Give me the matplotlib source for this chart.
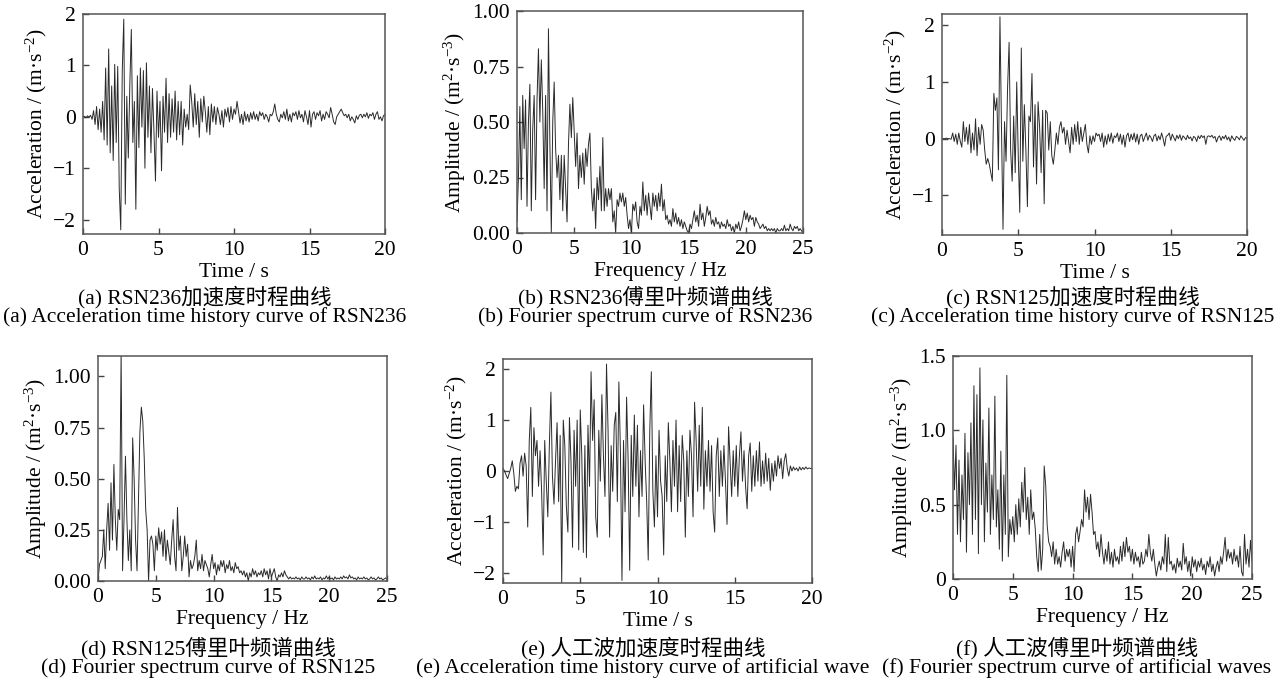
import numpy as np
import matplotlib
matplotlib.use('Agg')
import matplotlib.pyplot as plt

plt.rcParams['font.family'] = ['Liberation Serif', 'Noto Sans CJK SC']
plt.rcParams['mathtext.fontset'] = 'custom'
plt.rcParams['mathtext.rm'] = 'Liberation Serif'
plt.rcParams['mathtext.it'] = 'Liberation Serif'

# ---------------------------------------------------------------- data
# (a) RSN236 acceleration, 0.1 s step, 0..20 s
acc_236 = [
    0, 0.01, -0.02, 0.02, -0.01,
    0.03, -0.05, 0.12, -0.15, 0.2,
    -0.25, 0.15, -0.3, 0.3, -0.45,
    0.95, -0.55, 1.32, -0.7, 0.6,
    -0.85, 1.02, -0.5, 0.98, -1.4,
    -2.2, 0.9, 1.9, -1.7, 0.4,
    -0.8, 0.6, 1.7, -0.5, 0.3,
    -1.8, 0.8, -0.6, 0.95, -0.2,
    0.9, -1.0, 1.05, -0.4, 0.6,
    -0.7, 0.55, -0.3, -1.25, 0.5,
    -0.4, 0.3, -1.05, 0.4, -0.3,
    0.75, -0.5, 0.45, -0.4, 0.35,
    -0.3, 0.5, -0.45, 0.3, -0.35,
    0.3, -0.55, 0.15, -0.2, 0.05,
    -0.25, 0.62, 0.3, -0.2, 0.45,
    -0.15, 0.3, -0.4, 0.35, -0.1,
    0.4, 0.1, -0.3, 0.2, -0.35,
    0.25, -0.1, 0.2, -0.15, 0.18,
    0.05, -0.15, 0.12, -0.2, 0.15,
    0.0, 0.18, -0.1, 0.2, -0.05,
    0.15, 0.05, 0.3, 0.1, -0.12,
    0.05, -0.15, 0.1, -0.08, 0.05,
    -0.1, 0.08, -0.05, 0.1, -0.05,
    0.05, -0.08, 0.1, 0.02, 0.08,
    -0.05, 0.05, 0.0, -0.1, 0.05,
    0.02, 0.1, 0.25, 0.05, -0.05,
    -0.1, 0.05, -0.02, 0.1, -0.05,
    0.15, -0.08, 0.05, -0.1, 0.08,
    0.02, 0.1, -0.05, 0.12, -0.02,
    0.05, -0.1, 0.12, 0.0, -0.15,
    0.12, -0.2, 0.05, 0.1, -0.05,
    0.08, 0.02, 0.12, -0.08, 0.05,
    -0.05, 0.1, 0.05, -0.02, 0.18,
    0.05, -0.1, -0.15, 0.0, 0.05,
    0.1, 0.15, 0.08, 0.02, 0.05,
    -0.02, 0.05, -0.08, 0.0, -0.05,
    -0.12, 0.02, -0.05, 0.03, 0.05,
    -0.02, 0.05, 0.0, 0.08, -0.03,
    0.05, 0.02, 0.08, -0.05, 0.05,
    0.1, -0.05, 0.0, -0.08, 0.02,
    0.05]

# (b) RSN236 Fourier amplitude, 0.125 Hz step, 0..25 Hz
amp_236 = [
    0.05, 0.25, 0.57, 0.15, 0.62, 0.38, 0.6, 0.12,
    0.5, 0.67, 0.1, 0.47, 0.62, 0.15, 0.6, 0.83,
    0.5, 0.78, 0.55, 0.2, 0.62, 0.1, 0.92, 0.4,
    0.0, 0.5, 0.68, 0.38, 0.25, 0.35, 0.15, 0.35,
    0.1, 0.35, 0.2, 0.05, 0.4, 0.58, 0.43, 0.61,
    0.45, 0.3, 0.45, 0.2, 0.35, 0.25, 0.36, 0.22,
    0.38, 0.3, 0.4, 0.45, 0.2, 0.1, 0.2, 0.02,
    0.25, 0.15, 0.3, 0.1, 0.43, 0.1, 0.2, 0.12,
    0.2, 0.15, 0.2, 0.05, 0.1, 0.0, 0.15, 0.12,
    0.18, 0.14, 0.18, 0.12, 0.16, 0.08, 0.02, 0.06,
    0.0, 0.13, 0.1, 0.14, 0.05, 0.02, 0.12, 0.08,
    0.23, 0.1, 0.17, 0.08, 0.18, 0.12, 0.06, 0.18,
    0.12, 0.17, 0.1, 0.18, 0.12, 0.22, 0.1, 0.15,
    0.06, 0.08, 0.04, 0.06, 0.03, 0.11, 0.05, 0.09,
    0.04, 0.07, 0.03, 0.06, 0.02, 0.05, 0.03, 0.01,
    0.0, 0.04, 0.02, 0.06, 0.1, 0.05, 0.08, 0.03,
    0.13, 0.06, 0.09, 0.03, 0.07, 0.12, 0.08, 0.1,
    0.04, 0.06, 0.03, 0.07, 0.04, 0.05, 0.02, 0.05,
    0.03, 0.04, 0.02, 0.06, 0.03, 0.04, 0.01, 0.03,
    0.0, 0.04, 0.02, 0.05, 0.01, 0.03, 0.06, 0.1,
    0.06, 0.09, 0.05, 0.08, 0.06, 0.07, 0.03, 0.07,
    0.05, 0.04, 0.02, 0.03, 0.04, 0.02, 0.03, 0.01,
    0.02, 0.01, 0.02, 0.01, 0.02, 0.0, 0.02, 0.01,
    0.01, 0.02, 0.01, 0.035, 0.01, 0.02, 0.01, 0.04,
    0.02, 0.01, 0.03, 0.02, 0.03, 0.01, 0.02, 0.01,
    0.0]

# (c) RSN125 acceleration, 0.1 s step
acc_125 = [
    0, 0, 0, 0.01, 0,
    0, -0.01, 0.1, -0.05, 0.08,
    -0.1, 0.1, -0.05, -0.15, 0.3,
    -0.05, 0.2, -0.1, 0.25, -0.25,
    0.1, -0.2, 0.35, -0.3, 0.2,
    -0.1, 0.25, 0.15, -0.2, -0.45,
    -0.35, -0.45, -0.6, -0.75, 0.8,
    0.5, 0.72, -0.55, 2.15, 0.2,
    -1.6, 0.3, -0.4, 0.9, 1.7,
    -0.2, -0.75, 0.4, -0.6, 1.0,
    -0.3, -1.3, 1.6, -0.4, 0.6,
    -0.2, -1.2, 0.4, 0.3, 1.15,
    -0.5, 0.6, -0.8, 0.65, 0.2,
    -0.6, 0.5, -1.15, 0.5, 0.45,
    -0.2, 0.3, -0.3, -0.45, -0.2,
    0.1, -0.1, 0.2, 0.3, 0.1,
    0.2, -0.1, 0.15, -0.05, -0.25,
    0.2, -0.1, 0.25, -0.05, 0.3,
    -0.1, 0.2, -0.05, 0.1, 0.25,
    -0.1, -0.25, 0.05, -0.1, 0.05,
    -0.05, 0.1, 0.05, 0.08, -0.05,
    0.1, -0.15, 0.05, -0.1, 0.08,
    -0.05, 0.1, -0.08, 0.05, 0.02,
    0.1, -0.05, 0.08, -0.1, 0.06,
    -0.15, 0.05, 0.1, -0.05, 0.08,
    -0.02, 0.1, -0.06, 0.08, -0.1,
    0.05, 0.08, -0.05, 0.03, 0.1,
    -0.03, 0.06, 0.02, -0.05, 0.05,
    0.08, -0.04, 0.05, -0.02, 0.1,
    0.0, -0.13, 0.04, 0.06, 0.1,
    -0.03, 0.08, 0.02, -0.04, 0.06,
    0.0, 0.07, -0.03, 0.05, 0.02,
    -0.02, 0.06, 0.0, 0.03, -0.04,
    0.04, 0.02, -0.05, 0.05, 0.0,
    0.06, 0.02, 0.05, -0.1, 0.04,
    0.05, 0.03, 0.06, 0.01, 0.04,
    -0.06, 0.02, 0.05, -0.03, 0.04,
    0.0, 0.06, -0.02, 0.03, -0.05,
    0.05, 0.0, -0.03, 0.04, 0.02,
    -0.02, 0.05, 0.01, -0.03, 0.02,
    0.0]

# (d) RSN125 Fourier amplitude, 0.125 Hz step
amp_125 = [
    0.0, 0.08, 0.1, 0.12, 0.25, 0.06, 0.25, 0.38,
    0.15, 0.48, 0.2, 0.57, 0.3, 0.15, 0.35, 0.3,
    1.12, 0.05, 0.3, 0.61, 0.3, 0.1, 0.25, 0.05,
    0.7, 0.5, 0.2, 0.05, 0.4, 0.73, 0.85, 0.78,
    0.6, 0.35, 0.25, 0.0, 0.2, 0.22, 0.18, 0.05,
    0.22, 0.15, 0.26, 0.18, 0.24, 0.12, 0.25, 0.1,
    0.2, 0.14, 0.08, 0.2, 0.3, 0.12, 0.05, 0.36,
    0.15, 0.22, 0.05, 0.12, 0.22, 0.12, 0.18, 0.02,
    0.1, 0.06, 0.08, 0.12, 0.2, 0.05, 0.1, 0.06,
    0.13, 0.05, 0.1, 0.08, 0.06, 0.02, 0.08, 0.13,
    0.06, 0.09, 0.03, 0.08, 0.05, 0.1, 0.07, 0.1,
    0.04, 0.08, 0.06, 0.1, 0.05, 0.07, 0.04, 0.09,
    0.06, 0.07, 0.04, 0.05, 0.03, 0.05, 0.02, 0.04,
    0.0, 0.04, 0.02, 0.06, 0.03, 0.05, 0.02, 0.04,
    0.03, 0.05, 0.02, 0.06, 0.03, 0.05, 0.01, 0.06,
    0.02, 0.04, 0.06, 0.02, 0.0, 0.03, 0.02, 0.04,
    0.02, 0.05, 0.03, 0.02, 0.01, 0.02, 0.01, 0.015,
    0.01, 0.02, 0.01, 0.015, 0.005, 0.02, 0.01, 0.01,
    0.02, 0.01, 0.015, 0.005, 0.02, 0.01, 0.025, 0.01,
    0.015, 0.01, 0.02, 0.005, 0.015, 0.01, 0.025, 0.01,
    0.02, 0.01, 0.015, 0.005, 0.02, 0.01, 0.015, 0.01,
    0.02, 0.01, 0.025, 0.015, 0.02, 0.01, 0.03, 0.015,
    0.02, 0.01, 0.015, 0.005, 0.02, 0.01, 0.015, 0.01,
    0.02, 0.01, 0.015, 0.005, 0.01, 0.02, 0.01, 0.015,
    0.005, 0.01, 0.02, 0.01, 0.015, 0.005, 0.01, 0.015,
    0.01]

# (e) artificial wave acceleration, 0.1 s step
acc_art = [
    0.05, 0.0, -0.08, -0.15, -0.05,
    0.05, 0.2, -0.05, -0.4, -0.3,
    -0.35, 0.15, 0.3, -0.1, 0.35,
    0.1, -1.1, 0.6, 1.25, -0.5,
    0.85, 0.3, 0.6, -0.3, 0.4,
    -0.4, -1.65, 0.6, -0.2, -0.9,
    0.5, 1.55, -0.1, -0.65, 0.2,
    0.95, -0.6, 0.7, -2.2, 1.0,
    0.5, -0.7, -1.2, 1.05, 0.2,
    -1.5, 0.8, -0.3, 1.0, -1.55,
    1.2, 0.3, -1.6, 0.5, -1.7,
    0.9, -0.3, 1.95, 0.6, 1.4,
    -0.9, -1.3, 0.8, -0.2, 1.5,
    0.3, -0.5, 2.1, 0.8, -1.3,
    0.5, -0.4, 0.9, 1.15, -0.6,
    1.75, 0.4, -2.15, 0.6, -0.8,
    1.45, 0.2, -1.95, 0.7, -0.5,
    1.1, -0.3, 0.9, -0.9, 0.4,
    -0.5, 1.3, 0.2, -0.6, -1.75,
    0.8, 1.95, -0.4, -1.1, 0.3,
    -0.9, 0.8, -0.2, -0.5, -1.65,
    0.3, -0.6, 0.95, 0.2, -0.8,
    0.6, -0.3, 1.0, -0.8, 0.5,
    -0.6, 0.7, 0.2, -1.3, 0.4,
    -0.5, 0.8, 0.3, -0.9, 1.35,
    0.6, -0.4, 0.9, -0.3, 1.25,
    -0.75, 0.4, -0.3, 0.6, -0.4,
    0.5, -0.8, -1.2, 0.3, 0.65,
    -0.5, 0.4, -0.3, 0.5, -0.2,
    -1.05, 0.87, 0.2, -0.5, 0.4,
    -0.3, 0.5, -0.5, 0.3, 0.77,
    -0.2, 0.4, -0.3, -0.74, 0.3,
    0.55, -0.4, 0.3, -0.3, 0.4,
    -0.2, 0.57, -0.3, 0.2, -0.25,
    0.35, -0.2, 0.25, -0.38, 0.15,
    -0.2, 0.2, -0.1, 0.3, 0.05,
    0.25, -0.15, 0.2, 0.34, 0.05,
    -0.1, 0.1, 0.0, 0.08, 0.02,
    0.06, 0.0, 0.08, 0.02, 0.07,
    0.03, 0.08, 0.04, 0.06, 0.05,
    0.05]

# (f) artificial wave Fourier amplitude, 0.125 Hz step
amp_art = [
    0.95, 0.6, 0.9, 0.3, 0.8, 0.25, 0.7, 0.4,
    0.98, 0.18, 0.85, 0.5, 1.05, 0.3, 1.3, 0.4,
    1.24, 0.17, 1.42, 0.5, 1.07, 0.25, 0.78, 0.45,
    1.15, 0.3, 0.7, 0.4, 1.23, 0.35, 0.6, 0.2,
    0.86, 0.12, 0.7, 0.3, 1.37, 0.15, 0.4, 0.3,
    0.42, 0.25, 0.5, 0.3, 0.54, 0.35, 0.65, 0.45,
    0.75, 0.4, 0.55, 0.3, 0.6, 0.4, 0.45, 0.34,
    0.15, 0.05, 0.3, 0.06, 0.2, 0.76, 0.63, 0.36,
    0.25, 0.22, 0.15, 0.25, 0.1, 0.2, 0.1, 0.15,
    0.08, 0.18, 0.25, 0.12, 0.2, 0.15, 0.2, 0.08,
    0.22, 0.05, 0.3, 0.35, 0.25, 0.32, 0.4, 0.35,
    0.6, 0.45, 0.55, 0.4, 0.57, 0.45, 0.3, 0.32,
    0.2, 0.25, 0.15, 0.3, 0.18, 0.1, 0.2, 0.12,
    0.25, 0.1, 0.18, 0.08, 0.2, 0.12, 0.15, 0.1,
    0.22, 0.12, 0.25, 0.15, 0.28, 0.18, 0.22, 0.12,
    0.2, 0.1, 0.18, 0.12, 0.15, 0.08, 0.18, 0.1,
    0.12, 0.2, 0.15, 0.3, 0.18, 0.12, 0.2, 0.1,
    0.02, 0.08, 0.12, 0.06, 0.15, 0.1, 0.3, 0.05,
    0.28, 0.1, 0.12, 0.06, 0.1, 0.04, 0.14, 0.08,
    0.12, 0.06, 0.24, 0.1, 0.15, 0.05, 0.12, 0.02,
    0.15, 0.08, 0.13, 0.05, 0.12, 0.08, 0.14, 0.06,
    0.1, 0.03, 0.12, 0.08, 0.15, 0.05, 0.1, 0.02,
    0.08, 0.12, 0.05, 0.15, 0.1, 0.18, 0.28, 0.12,
    0.2, 0.14, 0.18, 0.1, 0.2, 0.12, 0.16, 0.08,
    0.22, 0.05, 0.02, 0.3, 0.1, 0.2, 0.08, 0.26,
    0.12]

acc_ylabel = 'Acceleration / (m·s$^{-2}$)'
amp_ylabel = 'Amplitude / (m$^{2}$·s$^{-3}$)'

# y tick values and their printed labels per panel
yt_acc = [-2, -1, 0, 1, 2]
ytl_acc = ['\u22122', '\u22121', '0', '1', '2']
yt_c = [-1, 0, 1, 2]
ytl_c = ['\u22121', '0', '1', '2']
yt_amp = [0, 0.25, 0.5, 0.75, 1.0]
ytl_amp = ['0.00', '0.25', '0.50', '0.75', '1.00']
yt_f = [0, 0.5, 1.0, 1.5]
ytl_f = ['0', '0.5', '1.0', '1.5']

# panel box in pixels: left, right, top, bottom (1284 x 687 canvas)
W, H = 1284, 687
panels = [
    dict(box=(83, 385, 14, 234), x=acc_236, xmax=20, ylim=(-2.28, 2.0),
         yt=yt_acc, ytl=ytl_acc, xl='Time / s', yl=acc_ylabel,
         cn='(a) RSN236加速度时程曲线',
         en='(a) Acceleration time history curve of RSN236', cx=205),
    dict(box=(517, 803, 11, 233), x=amp_236, xmax=25, ylim=(0, 1.0),
         yt=yt_amp, ytl=ytl_amp, xl='Frequency / Hz',
         yl=amp_ylabel, cn='(b) RSN236傅里叶频谱曲线',
         en='(b) Fourier spectrum curve of RSN236', cx=645),
    dict(box=(942, 1247, 14, 235), x=acc_125, xmax=20, ylim=(-1.7, 2.2),
         yt=yt_c, ytl=ytl_c, xl='Time / s', yl=acc_ylabel,
         cn='(c) RSN125加速度时程曲线',
         en='(c) Acceleration time history curve of RSN125', cx=1073),
    dict(box=(98, 387, 356, 581), x=amp_125, xmax=25, ylim=(0, 1.1),
         yt=yt_amp, ytl=ytl_amp, xl='Frequency / Hz',
         yl=amp_ylabel, cn='(d) RSN125傅里叶频谱曲线',
         en='(d) Fourier spectrum curve of RSN125', cx=208),
    dict(box=(503, 812, 359, 583), x=acc_art, xmax=20, ylim=(-2.2, 2.2),
         yt=yt_acc, ytl=ytl_acc, xl='Time / s', yl=acc_ylabel,
         cn='(e) 人工波加速度时程曲线',
         en='(e) Acceleration time history curve of artificial wave', cx=643),
    dict(box=(953, 1252, 356, 579), x=amp_art, xmax=25, ylim=(0, 1.5),
         yt=yt_f, ytl=ytl_f, xl='Frequency / Hz',
         yl=amp_ylabel, cn='(f) 人工波傅里叶频谱曲线',
         en='(f) Fourier spectrum curve of artificial waves', cx=1077),
]

fig = plt.figure(figsize=(W / 100, H / 100), dpi=100)
FS = 15.5
for i, p in enumerate(panels):
    l, r, t, b = p['box']
    ax = fig.add_axes([l / W, 1 - b / H, (r - l) / W, (b - t) / H])
    y = np.array(p['x'], dtype=float)
    xs = np.linspace(0, p['xmax'], len(y))
    ax.plot(xs, y, color='#2a2a2a', lw=0.7)
    ax.set_xlim(0, p['xmax'])
    ax.set_ylim(*p['ylim'])
    ax.set_xticks(np.arange(0, p['xmax'] + 1, 5))
    ax.set_yticks(p['yt'])
    ax.set_yticklabels(p['ytl'])
    ax.tick_params(direction='in', length=4, width=1, labelsize=FS,
                   color='#444444')
    ax.tick_params(axis='x', pad=5)
    ax.tick_params(axis='y', pad=5)
    for s in ax.spines.values():
        s.set_color('#555555'); s.set_linewidth(1.1)
    ax.set_xlabel(p['xl'], fontsize=FS, labelpad=2)
    ax.set_ylabel(p['yl'], fontsize=FS, labelpad=3)
    row_y = 297 if i < 3 else 648
    fig.text(p['cx'] / W, 1 - row_y / H, p['cn'], ha='center', va='center',
             fontsize=FS)
    fig.text(p['cx'] / W, 1 - (row_y + 20) / H, p['en'], ha='center',
             va='center', fontsize=FS)

fig.savefig('out.png', dpi=100)
